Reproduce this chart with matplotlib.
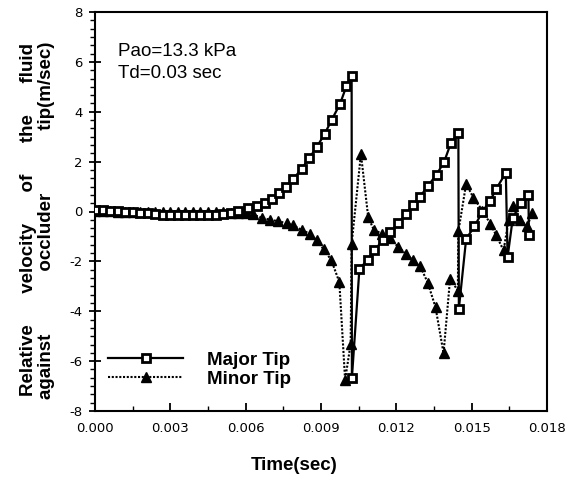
import matplotlib
matplotlib.use('Agg')
import matplotlib.pyplot as plt
from matplotlib.ticker import MultipleLocator, AutoMinorLocator

# Major Tip (time in sec, velocity in m/sec)
t_major = [0.0000, 0.0003, 0.0006, 0.0009, 0.0012, 0.0015, 0.0018, 0.0021, 0.0024, 0.0027,
           0.0030, 0.0033, 0.0036, 0.0039, 0.0042, 0.0045, 0.0048, 0.0051, 0.0054, 0.0057,
           0.00611, 0.00644, 0.00675, 0.00704, 0.00732, 0.00761, 0.00790, 0.00823, 0.00853,
           0.00883, 0.00915, 0.00943, 0.00976, 0.01001, 0.01022,
           0.01023, 0.01053, 0.01086, 0.01113, 0.01145, 0.01175, 0.01208, 0.01239, 0.01266,
           0.01295, 0.01327, 0.01360, 0.01390, 0.01417, 0.01447,
           0.01449, 0.01478, 0.01511, 0.01543, 0.01574, 0.01598, 0.01636,
           0.01643, 0.01664, 0.01695, 0.01726, 0.01728]
v_major = [0.05, 0.05, 0.03, 0.02, 0.00, -0.02, -0.05, -0.08, -0.12, -0.15,
           -0.15, -0.15, -0.15, -0.15, -0.15, -0.15, -0.13, -0.10, -0.05, 0.03,
           0.13, 0.21, 0.35, 0.49, 0.73, 1.00, 1.31, 1.71, 2.14,
           2.58, 3.12, 3.68, 4.32, 5.02, 5.45,
           -6.68, -2.30, -1.94, -1.56, -1.16, -0.84, -0.45, -0.12, 0.27,
           0.60, 1.04, 1.48, 1.98, 2.74, 3.14,
           -3.90, -1.10, -0.60, 0.00, 0.44, 0.91, 1.55,
           -1.83, -0.25, 0.33, 0.68, -0.93]

# Minor Tip
t_minor = [0.0000, 0.0003, 0.0006, 0.0009, 0.0012, 0.0015, 0.0018, 0.0021, 0.0024, 0.0027,
           0.0030, 0.0033, 0.0036, 0.0039, 0.0042, 0.0045, 0.0048, 0.0051, 0.0054, 0.0057,
           0.0060, 0.00628, 0.00664, 0.00697, 0.00730, 0.00764, 0.00790, 0.00823, 0.00855,
           0.00883, 0.00910, 0.00941, 0.00973, 0.00996, 0.01018, 0.01022, 0.01059,
           0.01088, 0.01110, 0.01142, 0.01175, 0.01208, 0.01239, 0.01265, 0.01295,
           0.01325, 0.01356, 0.01388, 0.01414, 0.01445, 0.01447, 0.01478,
           0.01507, 0.01543, 0.01574, 0.01598, 0.01627, 0.01647, 0.01664,
           0.01693, 0.01722, 0.01740]
v_minor = [0.03, 0.02, 0.02, 0.00, 0.00, 0.00, -0.02, -0.02, -0.02, -0.02,
           -0.02, -0.02, -0.02, -0.02, -0.02, -0.02, -0.03, -0.03, -0.05, -0.05,
           -0.06, -0.12, -0.25, -0.33, -0.39, -0.47, -0.56, -0.74, -0.89,
           -1.16, -1.51, -1.95, -2.83, -6.75, -5.31, -1.30, 2.31,
           -0.23, -0.73, -0.89, -1.07, -1.43, -1.70, -1.94, -2.20,
           -2.85, -3.84, -5.68, -2.70, -3.17, -0.80, 1.11,
           0.55, 0.04, -0.49, -0.96, -1.56, -0.36, 0.24,
           -0.33, -0.60, -0.05]

xticks = [0.000, 0.003, 0.006, 0.009, 0.012, 0.015, 0.018]
xticklabels = ['0.000', '0.003', '0.006', '0.009', '0.012', '0.015', '0.018']
yticks = [-8, -6, -4, -2, 0, 2, 4, 6, 8]

W, H = 569, 483
fig = plt.figure(figsize=(W / 100, H / 100), dpi=100)
ax = fig.add_axes([95 / W, 1 - 411 / H, 452 / W, 399 / H])

ax.plot(t_major, v_major, color='black', linestyle='-', linewidth=1.6,
        marker='s', markersize=5.5, markerfacecolor='white', markeredgecolor='black',
        markeredgewidth=2.0, label='Major Tip', zorder=3)
ax.plot(t_minor, v_minor, color='black', linestyle=(0, (1, 0.8)), linewidth=1.5,
        marker='^', markersize=7, markerfacecolor='black', markeredgecolor='black',
        label='Minor Tip', zorder=2)

ax.set_xlim(0, 0.018)
ax.set_ylim(-8, 8)
ax.set_xticks(xticks)
ax.set_xticklabels(xticklabels, family='DejaVu Sans', size=9.5)
ax.set_yticks(yticks)
ax.set_yticklabels([str(v) for v in yticks], family='DejaVu Sans', size=9.5)
ax.xaxis.set_minor_locator(MultipleLocator(0.0015))
ax.yaxis.set_minor_locator(AutoMinorLocator(6))

ax.tick_params(axis='x', which='major', direction='in', length=6, width=1.3, pad=8)
ax.tick_params(axis='x', which='minor', direction='in', length=3.5, width=1.0)
ax.tick_params(axis='y', which='major', direction='inout', length=8, width=1.3, pad=5)
ax.tick_params(axis='y', which='minor', direction='out', length=3.5, width=1.0)
for s in ax.spines.values():
    s.set_linewidth(1.5)

ax.text(0.0009, 6.25, 'Pao=13.3 kPa', family='Liberation Sans', size=13.5, color='black')
ax.text(0.0009, 5.35, 'Td=0.03 sec', family='Liberation Sans', size=13.5, color='black')

leg = ax.legend(loc='center left', bbox_to_anchor=(0.029, 0.104), frameon=False,
                prop={'family': 'Liberation Sans', 'weight': 'bold', 'size': 13.5},
                handlelength=4.0, handletextpad=1.3, labelspacing=0.1,
                borderpad=0, borderaxespad=0, numpoints=1)

fig.text(294 / W, 1 - 466 / H, 'Time(sec)', family='Liberation Sans', weight='bold',
         size=13.5, ha='center', va='center')
fig.text(29 / W, 1 - 220 / H, 'Relative      velocity      of      the      fluid',
         family='Liberation Sans', weight='bold', size=13.5, rotation=90,
         ha='center', va='center')
fig.text(47 / W, 1 - 220 / H, 'against            occluder            tip(m/sec)',
         family='Liberation Sans', weight='bold', size=13.5, rotation=90,
         ha='center', va='center')

plt.savefig('out.png', dpi=100)
